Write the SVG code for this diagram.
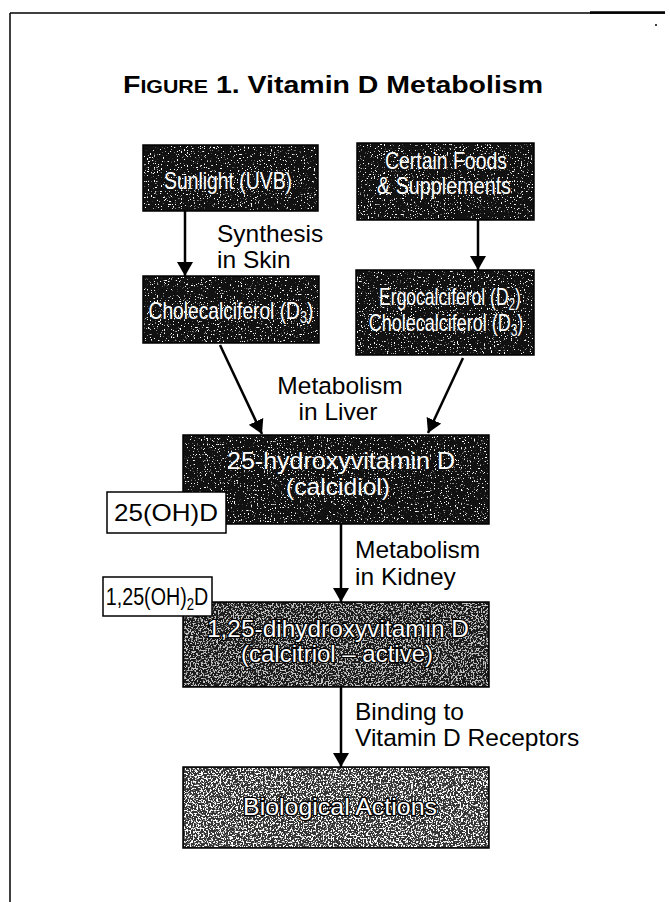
<svg xmlns="http://www.w3.org/2000/svg" width="670" height="902" viewBox="0 0 670 902">
<style>
.box{stroke:#000;stroke-width:1.5}
.spk{fill:#fff;filter:url(#speck)}
.spk2{fill:#fff;filter:url(#speck2)}
.bt{font-family:"Liberation Sans",Arial,sans-serif;font-size:24px;fill:#fff;text-anchor:middle}
.lb{font-family:"Liberation Sans",Arial,sans-serif;font-size:24.5px;fill:#000}
.tg{font-family:"Liberation Sans",Arial,sans-serif;font-size:24px;fill:#000}
.tag{fill:#fff;stroke:#000;stroke-width:1.5}
.conn{stroke:#000;stroke-width:2.5;fill:none;marker-end:url(#ah)}
</style>
<defs>
<marker id="ah" markerUnits="userSpaceOnUse" markerWidth="14" markerHeight="16" viewBox="0 0 14 16" refX="14" refY="8" orient="auto">
<path d="M0,0 L14,8 L0,16 z" fill="#000"/>
</marker>
<filter id="speck" x="0" y="0" width="100%" height="100%">
<feTurbulence type="fractalNoise" baseFrequency="0.7" numOctaves="2" seed="4"/>
<feColorMatrix type="matrix" values="0 0 0 0 1  0 0 0 0 1  0 0 0 0 1  12 0 0 0 -7.6"/>
</filter>
<filter id="speck2" x="0" y="0" width="100%" height="100%">
<feTurbulence type="fractalNoise" baseFrequency="0.6" numOctaves="2" seed="9"/>
<feColorMatrix type="matrix" values="0 0 0 0 1  0 0 0 0 1  0 0 0 0 1  10 0 0 0 -5"/>
</filter>
</defs>
<rect width="670" height="902" fill="#fff"/>
<g id="frame" stroke="#000" fill="none">
<path d="M10,13 H665" stroke-width="1.5"/>
<path d="M590,12.5 H665" stroke-width="2.5"/>
<path d="M10,13 V902" stroke-width="1.5"/>
<path d="M655,25 h2" stroke-width="1.5"/>
</g>
<g id="title">
<text x="123" y="93" font-family="Liberation Sans,Arial,sans-serif" font-weight="bold" font-size="24" textLength="420" lengthAdjust="spacingAndGlyphs">F<tspan font-size="18">IGURE</tspan> 1. Vitamin D Metabolism</text>
</g>
<g id="connectors">
<line class="conn" x1="185" y1="211" x2="185" y2="276"/>
<line class="conn" x1="478" y1="220" x2="478" y2="270"/>
<line class="conn" x1="220" y1="345" x2="262" y2="434"/>
<line class="conn" x1="463" y1="358" x2="428" y2="433"/>
<line class="conn" x1="341" y1="524" x2="341" y2="602"/>
<line class="conn" x1="341" y1="687" x2="341" y2="767"/>
</g>
<g id="sunlight">
<rect class="box" x="143" y="145" width="175" height="66" fill="#111"/>
<rect class="spk" x="144" y="146" width="173" height="64"/>
<text class="bt" x="228" y="189" textLength="128" lengthAdjust="spacingAndGlyphs">Sunlight (UVB)</text>
</g>
<g id="foods">
<rect class="box" x="357" y="143" width="177" height="77" fill="#111"/>
<rect class="spk" x="358" y="144" width="175" height="75"/>
<text class="bt" x="446" y="169" textLength="122" lengthAdjust="spacingAndGlyphs">Certain Foods</text>
<text class="bt" x="444" y="194" textLength="134" lengthAdjust="spacingAndGlyphs">&amp; Supplements</text>
</g>
<g id="cholecalciferol">
<rect class="box" x="143" y="276" width="176" height="67" fill="#111"/>
<rect class="spk" x="144" y="277" width="174" height="65"/>
<text class="bt" transform="translate(231,319) scale(0.8,1)">Cholecalciferol (D<tspan font-size="16" baseline-shift="-4">3</tspan>)</text>
</g>
<g id="ergocalciferol">
<rect class="box" x="356" y="270" width="178" height="85" fill="#111"/>
<rect class="spk" x="357" y="271" width="176" height="83"/>
<text class="bt" transform="translate(450,305) scale(0.73,1)">Ergocalciferol (D<tspan font-size="16" baseline-shift="-4">2</tspan>)</text>
<text class="bt" transform="translate(446,331) scale(0.75,1)">Cholecalciferol (D<tspan font-size="16" baseline-shift="-4">3</tspan>)</text>
</g>
<g id="calcidiol">
<rect class="box" x="183" y="435" width="306" height="89" fill="#111"/>
<rect class="spk" x="184" y="436" width="304" height="87"/>
<text class="bt" x="341" y="469" textLength="228" lengthAdjust="spacingAndGlyphs">25-hydroxyvitamin D</text>
<text class="bt" x="338" y="495" textLength="104" lengthAdjust="spacingAndGlyphs">(calcidiol)</text>
</g>
<g id="calcitriol">
<rect class="box" x="183" y="602" width="306" height="85" fill="#1a1a1a"/>
<rect class="spk2" x="184" y="603" width="304" height="83" opacity="0.75"/>
<text class="bt" x="338" y="637" textLength="262" lengthAdjust="spacingAndGlyphs" stroke="#000" stroke-width="2.5" paint-order="stroke">1,25-dihydroxyvitamin D</text>
<text class="bt" x="337" y="662" textLength="192" lengthAdjust="spacingAndGlyphs" stroke="#000" stroke-width="2.5" paint-order="stroke">(calcitriol – active)</text>
</g>
<g id="actions">
<rect class="box" x="183" y="767" width="306" height="81" fill="#333"/>
<rect class="spk2" x="184" y="768" width="304" height="79"/>
<text class="bt" x="340" y="815" textLength="194" lengthAdjust="spacingAndGlyphs" stroke="#000" stroke-width="2.5" paint-order="stroke">Biological Actions</text>
</g>
<g id="tag-25ohd">
<rect class="tag" x="107" y="492" width="119" height="41"/>
<text class="tg" x="166" y="521" text-anchor="middle" textLength="104" lengthAdjust="spacingAndGlyphs">25(OH)D</text>
</g>
<g id="tag-125oh2d">
<rect class="tag" x="103" y="577" width="109" height="39"/>
<text class="tg" transform="translate(157,605) scale(0.82,1)" text-anchor="middle">1,25(OH)<tspan font-size="16" baseline-shift="-5">2</tspan>D</text>
</g>
<g id="labels">
<text class="lb" x="217" y="242">Synthesis</text>
<text class="lb" x="217" y="268">in Skin</text>
<text class="lb" x="340" y="394" text-anchor="middle">Metabolism</text>
<text class="lb" x="338" y="420" text-anchor="middle">in Liver</text>
<text class="lb" x="355" y="558">Metabolism</text>
<text class="lb" x="355" y="585">in Kidney</text>
<text class="lb" x="355" y="720">Binding to</text>
<text class="lb" x="355" y="746">Vitamin D Receptors</text>
</g>
</svg>
